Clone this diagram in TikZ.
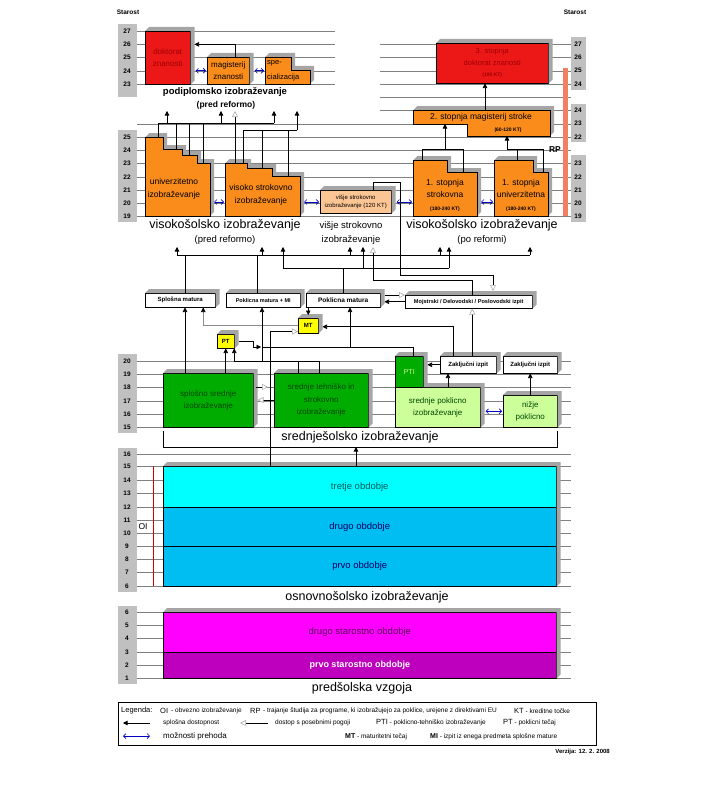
\documentclass[tikz,border=0pt]{standalone}
\usepackage{fontspec}
\setmainfont{Liberation Sans}
\usetikzlibrary{arrows.meta,calc}

\definecolor{redb}{RGB}{236,24,24}
\definecolor{dred}{RGB}{160,0,0}
\definecolor{orng}{RGB}{250,140,28}
\definecolor{lorng}{RGB}{252,198,148}
\definecolor{dgrn}{RGB}{0,172,0}
\definecolor{lgrn}{RGB}{204,255,153}
\definecolor{tgrn}{RGB}{0,70,0}
\definecolor{cyn}{RGB}{0,255,255}
\definecolor{sky}{RGB}{0,190,242}
\definecolor{mgn}{RGB}{255,0,255}
\definecolor{dmgn}{RGB}{190,0,190}
\definecolor{yel}{RGB}{255,255,0}
\definecolor{rpc}{RGB}{240,128,96}
\definecolor{agegray}{RGB}{192,192,192}
\definecolor{facegray}{RGB}{165,165,165}

% 3D faces (top + right side) of a box node
\newcommand{\faces}[1]{\fill[facegray] (#1.north west) -- ++(4pt,4pt) -- ([shift={(4pt,4pt)}]#1.north east)
  -- ([shift={(4pt,4pt)}]#1.south east) -- (#1.south east) -- (#1.north east) -- cycle;}
% 3D faces of a stepped box
\newcommand{\extrude}[1]{\foreach \t in {0.5,1,...,4}{\fill[facegray,shift={(\t pt,\t pt)}] #1;}}

\def\univpath{(145,137) -- (163,137) -- (163,149) -- (182,149) -- (182,155) -- (197,155) -- (197,163) -- (210,163) -- (210,216) -- (145,216) -- cycle}
\def\vsokpath{(225,163) -- (247,163) -- (247,168) -- (272,168) -- (272,176) -- (300,176) -- (300,216) -- (225,216) -- cycle}
\def\specpath{(265,57) -- (291,57) -- (291,70) -- (310,70) -- (310,84) -- (265,84) -- cycle}
\def\magpath{(413,110) -- (550,110) -- (550,136) -- (467,136) -- (467,124) -- (413,124) -- cycle}
\def\strpath{(413,160) -- (447,160) -- (447,172) -- (477,172) -- (477,216) -- (413,216) -- cycle}
\def\unipath{(494,160) -- (533,160) -- (533,172) -- (548,172) -- (548,216) -- (494,216) -- cycle}

\begin{document}
\begin{tikzpicture}[x=1pt, y=-1pt,
  cube/.style={draw=black, line width=0.5pt, fill=#1, inner sep=1pt, anchor=north west,
    align=center, font=\fontsize{8}{12.5}\selectfont},
  mbox/.style={cube=white, font=\fontsize{5.5}{6.5}\selectfont\bfseries},
  boxtext/.style={align=center, inner sep=0pt, font=\fontsize{8.5}{12.5}\selectfont},
  agenum/.style={inner sep=0pt, font=\fontsize{6.5}{7}\selectfont\bfseries},
  gline/.style={draw=black!50, line width=0.4pt},
  agebar/.style={fill=agegray},
  link/.style={line width=0.6pt},
  conn/.style={link, -{Triangle[length=4.5pt,width=4.5pt,color=black]}},
  pogoj/.style={link, -{Triangle[length=6pt,width=6pt,color=black!30,fill=white]}},
  prehod/.style={{Straight Barb[length=2.5pt,width=5pt]}-{Straight Barb[length=2.5pt,width=5pt]},
    draw=blue!75!black, line width=0.7pt},
  biglbl/.style={inner sep=0pt, font=\fontsize{12.5}{14}\selectfont},
  sublbl/.style={inner sep=0pt, font=\fontsize{9.5}{11}\selectfont},
  legtxt/.style={anchor=west, inner sep=0pt, font=\fontsize{6.5}{7.5}\selectfont},
  legkey/.style={anchor=west, inner sep=0pt, font=\fontsize{7.5}{8.5}\selectfont},
]
\useasboundingbox (0,0) rectangle (715,792);

% -----------------------------
% Age grid and scales
% -----------------------------
\foreach \i in {0,...,4} \draw[gline] (137,{31+13.25*\i}) -- (335,{31+13.25*\i});
\foreach \i in {1,...,6} \draw[gline] (380,{31+13.25*\i}) -- (571,{31+13.25*\i});
\foreach \i in {7,...,14} \draw[gline] (137,{31+13.25*\i}) -- (571,{31+13.25*\i});
\foreach \y in {361,374,387,401,414,427} \draw[gline] (137,\y) -- (571,\y);
\foreach \y in {454,466,480,493,507,520,533,546,559,572,586} \draw[gline] (137,\y) -- (571,\y);
\foreach \y in {612,625,638,652,665,678} \draw[gline] (137,\y) -- (571,\y);

\fill[agebar] (118,24) rectangle (137,97);
\fill[agebar] (118,130) rectangle (137,222);
\fill[agebar] (571,37) rectangle (586,90);
\fill[agebar] (571,104) rectangle (586,142);
\fill[agebar] (571,155) rectangle (586,222);
\fill[agebar] (118,354) rectangle (137,433);
\fill[agebar] (118,448) rectangle (137,592);
\fill[agebar] (118,606) rectangle (137,684);

\foreach \a [count=\i from 0] in {27,26,25,24,23} \node[agenum] at (127,{31+13.25*\i}) {\a};
\foreach \a [count=\i from 8] in {25,24,23,22,21,20,19} \node[agenum] at (127,{31+13.25*\i}) {\a};
\foreach \a [count=\i from 1] in {27,26,25,24} \node[agenum] at (578,{31+13.25*\i}) {\a};
\foreach \a [count=\i from 6] in {24,23,22} \node[agenum] at (578,{31+13.25*\i}) {\a};
\foreach \a [count=\i from 10] in {23,22,21,20,19} \node[agenum] at (578,{31+13.25*\i}) {\a};
\foreach \a/\y in {20/361,19/374,18/387,17/401,16/414,15/427} \node[agenum] at (127,\y) {\a};
\foreach \a/\y in {16/454,15/466,14/480,13/493,12/507,11/520,10/533,9/546,8/559,7/572,6/586}
  \node[agenum] at (127,\y) {\a};
\foreach \a/\y in {6/612,5/625,4/638,3/652,2/665,1/678} \node[agenum] at (127,\y) {\a};

\node[agenum] (starL) at (128,12) {Starost};
\node[agenum] (starR) at (575,12) {Starost};

% -----------------------------
% Podiplomsko (pred reformo)
% -----------------------------
\node[cube=redb, text=dred, minimum width=45pt, minimum height=53pt] (dokt) at (145,31) {doktorat\\znanosti};
\faces{dokt}
\node[cube=orng, minimum width=42pt, minimum height=27pt] (magz) at (207,57) {magisterij\\znanosti};
\faces{magz}
\extrude{\specpath}
\filldraw[fill=orng, line width=0.5pt] \specpath;
\node[boxtext, anchor=west, align=left, font=\fontsize{7.5}{12.5}\selectfont] (spec) at (267,71) {spe-\\[2pt]cializacija};
\coordinate (specL) at (265,70);

\node[inner sep=0pt, font=\fontsize{9.5}{11}\selectfont\bfseries] (podip) at (225,92) {podiplomsko izobraževanje};
\node[inner sep=0pt, font=\fontsize{8.5}{10}\selectfont\bfseries] (podpr) at (226,105) {(pred reformo)};

% -----------------------------
% Doktorat / magisterij (po reformi)
% -----------------------------
\node[cube=redb, text=dred, minimum width=112pt, minimum height=40pt, font=\fontsize{7.5}{11.5}\selectfont] (dok3) at (436,43)
  {3. stopnja\\doktorat znanosti\\{\fontsize{5}{5}\selectfont\bfseries (180 KT)}};
\faces{dok3}
\extrude{\magpath}
\filldraw[fill=orng, line width=0.5pt] \magpath;
\node[boxtext] (mag2) at (481,117) {2. stopnja magisterij stroke};
\node[inner sep=0pt, font=\fontsize{5}{5}\selectfont\bfseries] (mag2kt) at (508,130) {(60-120 KT)};

% -----------------------------
% Visokosolsko izobrazevanje
% -----------------------------
\extrude{\univpath}
\filldraw[fill=orng, line width=0.5pt] \univpath;
\node[boxtext] (univ) at (174,189) {univerzitetno\\izobraževanje};
\extrude{\vsokpath}
\filldraw[fill=orng, line width=0.5pt] \vsokpath;
\node[boxtext] (vsok) at (261,195) {visoko strokovno\\izobraževanje};
\node[cube=lorng, minimum width=71pt, minimum height=23pt, font=\fontsize{6}{8.5}\selectfont] (vis) at (320,190)
  {višje strokovno\\izobraževanje (120 KT)};
\faces{vis}
\extrude{\strpath}
\filldraw[fill=orng, line width=0.5pt] \strpath;
\node[boxtext] (str1) at (445,195) {1. stopnja\\strokovna\\{\fontsize{5}{5}\selectfont\bfseries (180-240 KT)}};
\extrude{\unipath}
\filldraw[fill=orng, line width=0.5pt] \unipath;
\node[boxtext] (uni1) at (521,195) {1. stopnja\\univerzitetna\\{\fontsize{5}{5}\selectfont\bfseries (180-240 KT)}};

\fill[rpc] (563,68) rectangle (568,216);
\node[inner sep=0pt, font=\fontsize{8.5}{9}\selectfont\bfseries] (rp) at (555,150) {RP};

\node[biglbl] (visA) at (225,225) {visokošolsko izobraževanje};
\node[sublbl] (visAp) at (225,240) {(pred reformo)};
\node[inner sep=0pt, font=\fontsize{9.5}{13.5}\selectfont, align=center] (visB) at (351,233) {višje strokovno\\izobraževanje};
\node[biglbl] (visC) at (482,225) {visokošolsko izobraževanje};
\node[sublbl] (visCp) at (482,240) {(po reformi)};

% -----------------------------
% Mature and exams
% -----------------------------
\node[mbox, minimum width=70pt, minimum height=14pt, font=\fontsize{6}{7}\selectfont\bfseries] (spm) at (145,293) {Splošna matura};
\faces{spm}
\node[mbox, minimum width=74pt, minimum height=14pt] (pmi) at (226,293) {Poklicna matura + MI};
\faces{pmi}
\node[mbox, minimum width=74pt, minimum height=14pt, font=\fontsize{6.5}{7}\selectfont\bfseries] (pm) at (306,293) {Poklicna matura};
\faces{pm}
\node[mbox, minimum width=127pt, minimum height=13pt, font=\fontsize{5.6}{6}\selectfont\bfseries] (mdp) at (405,295)
  {Mojstrski / Delovodski / Poslovodski izpit};
\faces{mdp}
\node[cube=yel, minimum width=17pt, minimum height=14pt, font=\fontsize{6}{7}\selectfont\bfseries] (pt) at (217,334) {PT};
\faces{pt}
\node[cube=yel, minimum width=20pt, minimum height=15pt, font=\fontsize{6}{7}\selectfont\bfseries] (mt) at (298,318) {MT};
\faces{mt}

% -----------------------------
% Srednjesolsko izobrazevanje
% -----------------------------
\node[cube=dgrn, text=tgrn, minimum width=90pt, minimum height=54pt] (sss) at (163,373) {splošno srednje\\izobraževanje};
\faces{sss}
\node[cube=dgrn, text=tgrn, minimum width=94pt, minimum height=54pt] (sts) at (274,373)
  {srednje tehniško in\\strokovno\\izobraževanje};
\faces{sts}
\node[cube=lgrn, text=tgrn, minimum width=85pt, minimum height=40pt] (sp) at (395,387) {srednje poklicno\\izobraževanje};
\faces{sp}
\node[cube=dgrn, text=lgrn, minimum width=28pt, minimum height=31pt, font=\fontsize{7}{8}\selectfont] (pti) at (395,356) {PTI};
\faces{pti}
\node[mbox, minimum width=56pt, minimum height=17pt, font=\fontsize{6}{7}\selectfont\bfseries] (zi1) at (440,356) {Zaključni izpit};
\faces{zi1}
\node[mbox, minimum width=54pt, minimum height=17pt, font=\fontsize{6}{7}\selectfont\bfseries] (zi2) at (503,356) {Zaključni izpit};
\faces{zi2}
\node[cube=lgrn, text=tgrn, minimum width=54pt, minimum height=32pt] (niz) at (503,395) {nižje\\poklicno};
\faces{niz}

\coordinate (brL) at (163,431);
\coordinate (brB) at (163,447);
\coordinate (brR) at (557,431);
\draw[line width=0.5pt] (brL) -- (brB) -| (brR);
\node[biglbl] (sred) at (360,437) {srednješolsko izobraževanje};

% -----------------------------
% Osnovnosolsko izobrazevanje
% -----------------------------
\node[cube=cyn, text=teal!70!black, minimum width=393pt, minimum height=41pt, font=\fontsize{9.5}{10}\selectfont] (p3) at (163,466) {tretje obdobje};
\node[cube=sky, text=blue!40!black, minimum width=393pt, minimum height=39pt, font=\fontsize{9.5}{10}\selectfont] (p2) at (163,507) {drugo obdobje};
\node[cube=sky, text=blue!40!black, minimum width=393pt, minimum height=40pt, font=\fontsize{9.5}{10}\selectfont] (p1) at (163,546) {prvo obdobje};
\fill[facegray] (p3.north west) -- ++(4pt,4pt) -- ([shift={(4pt,4pt)}]p3.north east)
  -- ([shift={(4pt,4pt)}]p1.south east) -- (p1.south east) -- (p3.north east) -- cycle;
\draw[red!80!black, line width=0.6pt] (153,466) -- (153,586);
\node[inner sep=0pt, font=\fontsize{8.5}{9}\selectfont] (oi) at (143,527) {OI};
\node[biglbl] (osn) at (367,597) {osnovnošolsko izobraževanje};

% -----------------------------
% Predsolska vzgoja
% -----------------------------
\node[cube=mgn, text=violet!70!black, minimum width=393pt, minimum height=40pt, font=\fontsize{9.5}{10}\selectfont] (q2) at (163,612) {drugo starostno obdobje};
\node[cube=dmgn, text=white, minimum width=393pt, minimum height=26pt, font=\fontsize{9}{10}\selectfont\bfseries] (q1) at (163,652) {prvo starostno obdobje};
\fill[facegray] (q2.north west) -- ++(4pt,4pt) -- ([shift={(4pt,4pt)}]q2.north east)
  -- ([shift={(4pt,4pt)}]q1.south east) -- (q1.south east) -- (q2.north east) -- cycle;
\node[biglbl] (pred) at (362,688) {predšolska vzgoja};

% -----------------------------
% Connectors: podiplomsko
% -----------------------------
\draw[conn] ([xshift=7pt]magz.north) |- ($(dokt.north east)!.25!(dokt.south east)+(4,0)$);
\draw[prehod, shorten <=5pt, shorten >=1pt] (dokt.east |- magz.west) -- (magz.west);
\draw[prehod, shorten <=5pt, shorten >=1pt] (magz.east) -- (magz.east -| specL);

\coordinate (u1) at (158,137); \coordinate (u2) at (176,149);
\coordinate (u3) at (189,155); \coordinate (u4) at (203,163);
\coordinate (v0) at (235,163); \coordinate (v1) at (243,163);
\coordinate (v2) at (262,168); \coordinate (v3) at (288,176);
\coordinate (pd1) at (167,111); \coordinate (pd2) at (221,111); \coordinate (pd3) at (235,111);
\coordinate (pd4) at (274,111); \coordinate (pd5) at (297,111);
\coordinate (bA) at (0,123); \coordinate (bB) at (0,130);
\draw[link] (u1) |- (pd4 |- bA);
\foreach \c in {u2,u3,u4} \draw[link] (\c) -- (\c |- bA);
\foreach \c in {pd1,pd2,pd4} \draw[conn] (\c |- bA) -- (\c);
\draw[link] (v1) |- (pd5 |- bB);
\foreach \c in {v2,v3} \draw[link] (\c) -- (\c |- bB);
\draw[conn] (pd5 |- bB) -- (pd5);
\draw[pogoj] (v0) -- (pd3);

% -----------------------------
% Connectors: po reformi
% -----------------------------
\coordinate (s1) at (422,160); \coordinate (s2) at (463,172);
\coordinate (r1) at (517,160); \coordinate (r2) at (543,172);
\coordinate (m2a) at (445,124); \coordinate (m2b) at (507,136); \coordinate (m2t) at (485,110);
\coordinate (bC) at (0,149);
\draw[link] (s1) |- (s2 |- bC) -- (s2);
\draw[conn] (m2a |- bC) -- (m2a);
\draw[link] (m2b |- bC) -| (r2);
\draw[link] (r1) -- (r1 |- bC);
\draw[conn] (m2b |- bC) -- (m2b);
\draw[conn] (m2t) -- (m2t |- dok3.south);

\coordinate (univE) at (210,202); \coordinate (vsokW) at (225,202);
\coordinate (vsokE) at (300,202); \coordinate (strW) at (413,202);
\coordinate (strE) at (477,202); \coordinate (uniW) at (494,202);
\draw[prehod, shorten <=4pt, shorten >=1pt] (univE) -- (vsokW);
\draw[prehod, shorten <=4pt, shorten >=1pt] (vsokE) -- (vis.west |- vsokE);
\draw[prehod, shorten <=5pt, shorten >=1pt] (vis.east |- strW) -- (strW);
\draw[prehod, shorten <=4pt, shorten >=1pt] (strE) -- (uniW);

% -----------------------------
% Connectors: mature -> visokosolsko
% -----------------------------
\coordinate (e1) at (177,247); \coordinate (e2) at (262,247); \coordinate (e3) at (283,247);
\coordinate (e4) at (350,247); \coordinate (e5) at (363,247); \coordinate (e6) at (373,247);
\coordinate (e7) at (440,247); \coordinate (e8) at (449,247); \coordinate (e9) at (530,247);
\coordinate (bD) at (0,255); \coordinate (bE) at (0,268); \coordinate (bF) at (0,280);
\coordinate (spmT) at ($(spm.north)+(5,0)$);
\coordinate (pmiT) at ($(pmi.north)+(-6,0)$);
\draw[link] (e1 |- bD) -- (e9 |- bD);
\foreach \c in {e1,e2,e4,e7,e9} \draw[conn] (\c |- bD) -- (\c);
\draw[link] (spmT) -- (spmT |- bD);
\draw[link] (pmiT) -- (pmiT |- bD);
\draw[link] (e3 |- bE) -- (e8 |- bE);
\foreach \c in {e3,e5,e8} \draw[conn] (\c |- bE) -- (\c);
\draw[link] (pm.north) -- (pm.north |- bE);
\coordinate (mdpT) at ($(mdp.north)+(4,0)$);
\draw[pogoj] (mdpT) |- (e6 |- bF) -- (e6);
\coordinate (visT) at ($(vis.north)+(17.5,0)$);
\coordinate (k1) at (400,182); \coordinate (k2) at (493,275);
\draw[pogoj, shorten >=4pt] (visT) |- (k1) |- (k2) -- (k2 |- mdp.north);
\draw[conn] (mdp.west) -- ($(mdp.west -| pm.east)+(4,0)$);
\draw[pogoj] ($(pm.north east)+(4,2)$) -- (mdp.north west);

% -----------------------------
% Connectors: srednjesolsko -> mature
% -----------------------------
\draw[conn, shorten >=3pt] (mt.north |- pm.south) -- (mt.north);
\coordinate (spmB) at ($(spm.south)+(23,0)$);
\draw[conn, draw=black!45] (mt.west) -| (spmB);
\coordinate (ps) at ($(p3.north west)+(107,0)$);
\draw[pogoj] (ps) |- ($(mt.south west)+(0,-2)$);
\coordinate (ziA) at ($(zi1.north)+(-15,0)$);
\coordinate (ziB) at ($(zi1.north)+(4,0)$);
\draw[conn] (ziA) |- ($(mt.east)+(4,1)$);
\draw[pogoj] (ziB) -- (ziB |- mdp.south);

\coordinate (bG) at (0,347); \coordinate (bH) at (0,361);
\coordinate (ptiT) at ($(pti.north)+(4,0)$);
\draw[link] (ptiT) |- (e2 |- bG);
\draw[conn] (e2 |- bH) -- (e2 |- pmi.south);
\draw[conn] (e4 |- bG) -- (e4 |- pm.south);
\draw[conn] ($(pt.east)+(4,0)$) -| ($(e2 |- bG)+(-9,0)$) -- ($(e2 |- bG)+(-1,0)$);
\coordinate (t1) at ($(sts.north west)+(24,0)$);
\coordinate (t2) at ($(sts.north west)+(45,0)$);
\coordinate (ptin) at ($(pt.south)+(8.5,0)$);
\draw[link] (t2) |- (ptin |- bH);
\draw[link] (t1) -- (t1 |- bH);
\draw[conn] (ptin |- bH) -- (ptin);
\draw[conn] (pt.south |- sss.north) -- (pt.south);
\coordinate (sa) at ($(sss.north west)+(22,0)$);
\draw[conn] (sa) -- (sa |- spm.south);

\coordinate (h1) at ($(sss.north east)+(0,14)$);
\coordinate (h2) at ($(sts.north west)+(0,27)$);
\draw[pogoj, shorten <=2pt, shorten >=6pt] (h1) -- (h1 -| sts.west);
\draw[pogoj, shorten >=4pt] (h2) -- (h2 -| sss.east);

\draw[conn] (zi1.west) -- ($(zi1.west -| pti.east)+(4,0)$);
\coordinate (za) at ($(zi1.south west)+(8,0)$);
\draw[conn] (za |- sp.north) -- (za);
\draw[conn] (niz.north) -- (zi2.south);
\draw[prehod, shorten >=5pt, shorten <=1pt] (niz.west) -- (niz.west -| sp.east);

\coordinate (pa) at ($(p3.north west)+(193,0)$);
\draw[conn] (pa) -- (pa |- brB);

% -----------------------------
% Legend
% -----------------------------
\node[draw, line width=0.5pt, minimum width=478pt, minimum height=43pt, anchor=north west, inner sep=0pt] (leg) at (118,702) {};
\node[legkey] (lg) at (121,711) {Legenda:};
\node[legkey] (lgOI) at (160,711) {OI};
\node[legtxt] (lgOIt) at (171,711) {- obvezno izobraževanje};
\node[legkey] (lgRP) at (250,711) {RP};
\node[legtxt] (lgRPt) at (263,711) {- trajanje študija za programe, ki izobražujejo za poklice, urejene z direktivami EU};
\node[legtxt] (lgKT) at (514,711) {{\fontsize{7.5}{8}\selectfont KT} - kreditne točke};

\coordinate (la1) at (150,723); \coordinate (la2) at (123,723);
\draw[conn] (la1) -- (la2);
\node[legtxt] (lgS) at (163,723) {splošna dostopnost};
\coordinate (lb1) at (268,723); \coordinate (lb2) at (240,723);
\draw[pogoj] (lb1) -- (lb2);
\node[legtxt] (lgD) at (275,723) {dostop s posebnimi pogoji};
\node[legtxt] (lgPTI) at (376,723) {{\fontsize{7.5}{8}\selectfont PTI} - poklicno-tehniško izobraževanje};
\node[legtxt] (lgPT) at (503,723) {{\fontsize{7.5}{8}\selectfont PT} - poklicni tečaj};

\coordinate (lc1) at (123,736); \coordinate (lc2) at (150,736);
\draw[prehod] (lc1) -- (lc2);
\node[legkey, font=\fontsize{8}{9}\selectfont] (lgM) at (163,736) {možnosti prehoda};
\node[legtxt] (lgMT) at (345,737) {{\fontsize{7}{8}\selectfont\bfseries MT} - maturitetni tečaj};
\node[legtxt] (lgMI) at (430,737) {{\fontsize{7}{8}\selectfont\bfseries MI} - izpit iz enega predmeta splošne mature};

\node[inner sep=0pt, anchor=east, font=\fontsize{6}{7}\selectfont\bfseries] (verz) at (610,752) {Verzija: 12. 2. 2008};

\end{tikzpicture}
\end{document}
